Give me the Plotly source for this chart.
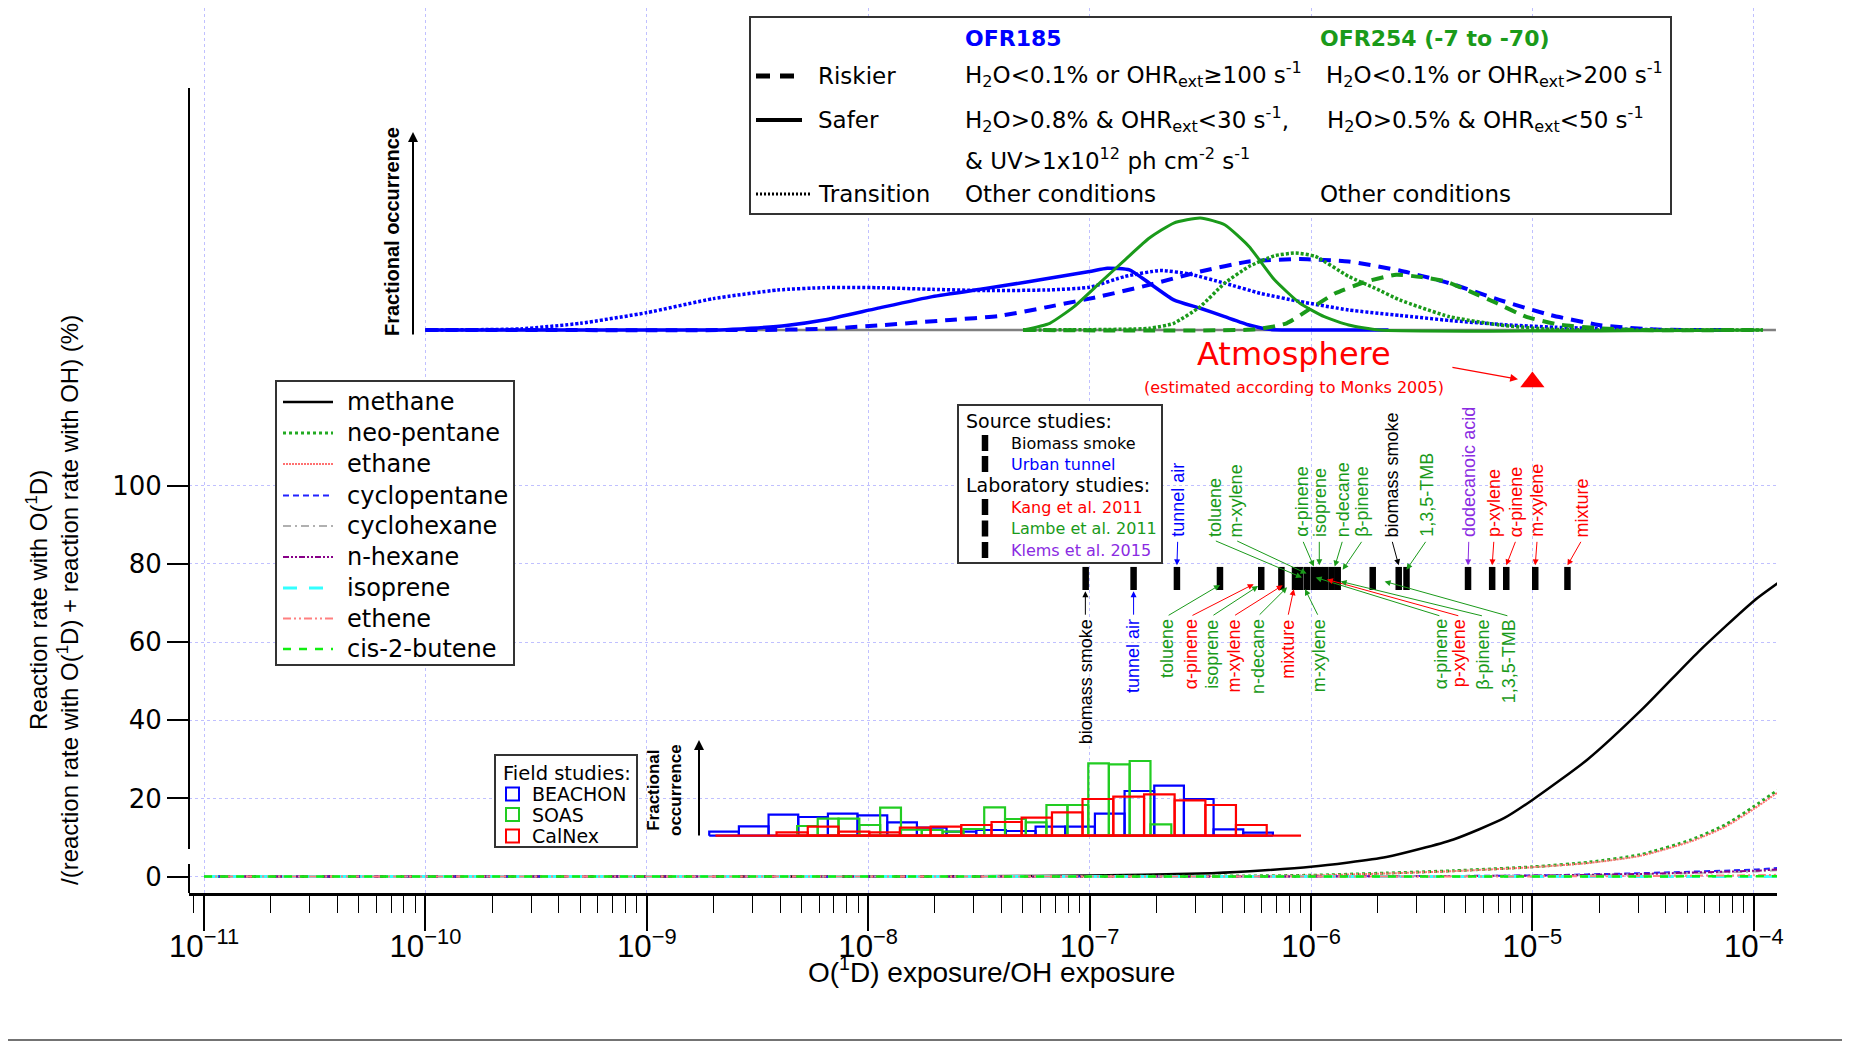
import numpy as np
import plotly.graph_objects as go

# ---------------- data ----------------
# main curves: fraction of reaction with O(1D) (%) vs O(1D) exposure / OH exposure
species = ["methane", "neo-pentane", "ethane", "cyclopentane", "cyclohexane",
           "n-hexane", "isoprene", "ethene", "cis-2-butene"]
methane_x = [1e-11, 1e-8, 3.16e-8, 1e-7, 3.16e-7, 5.3e-7, 1e-6, 2.19e-6, 4.4e-6, 7.48e-6, 1e-5,
             1.78e-5, 3.16e-5, 5.62e-5, 1e-4, 1.28e-4]
methane_y = [0, 0, 0.1, 0.25, 0.8, 1.4, 2.5, 5.0, 9.5, 15.0, 19.6,
             30.0, 43.0, 57.5, 70.5, 75.0]
slow_x = [1e-11, 1e-8, 1e-7, 5.3e-7, 1e-6, 2.19e-6, 4.4e-6, 1e-5, 1.81e-5, 3.07e-5, 5.2e-5,
          7.41e-5, 1e-4, 1.28e-4]
neopentane_y = [0, 0, 0.05, 0.17, 0.34, 0.9, 1.5, 2.5, 3.7, 5.6, 9.4, 13.2, 17.9, 22.1]
ethane_y = [0, 0, 0.05, 0.15, 0.3, 0.8, 1.4, 2.4, 3.5, 5.3, 9.0, 12.7, 17.3, 21.5]
fast_x = [1e-11, 1e-7, 1e-6, 1e-5, 3.16e-5, 1e-4, 1.28e-4]
cyclopentane_y = [0, 0, 0.05, 0.3, 0.9, 1.8, 2.2]
cyclohexane_y = [0, 0, 0.03, 0.2, 0.6, 1.3, 1.6]
nhexane_y = [0, 0, 0.04, 0.25, 0.7, 1.5, 1.8]
isoprene_y = [0, 0, 0, 0, 0.02, 0.05, 0.06]
ethene_y = [0, 0, 0.01, 0.05, 0.15, 0.35, 0.45]
cis2butene_y = [0, 0, 0, 0.02, 0.04, 0.1, 0.12]

# top inset: fractional occurrence distributions (log10 of exposure ratio)
ofr185_safer_lx = [-10.0, -8.67, -8.53, -8.37, -8.2, -7.96, -7.71, -7.47, -7.27, -7.135, -7.0,
                   -6.92, -6.82, -6.73, -6.62, -6.5, -6.39, -6.28, -6.19, -6.1, -5.65]
ofr185_safer_y = [0, 0, 0.015, 0.04, 0.089, 0.193, 0.298, 0.37, 0.433, 0.478, 0.522,
                  0.552, 0.537, 0.418, 0.269, 0.194, 0.119, 0.045, 0.006, 0, 0]
ofr185_trans_lx = [-10.0, -9.57, -9.3, -9.0, -8.7, -8.41, -8.2, -7.96, -7.71, -7.47, -7.18, -7.0,
                   -6.84, -6.68, -6.55, -6.39, -6.23, -6.05, -5.83, -5.6, -5.375, -5.15, -4.9, -4.6, -4.3]
ofr185_trans_y = [0, 0.01, 0.06, 0.155, 0.28, 0.357, 0.378, 0.378, 0.363, 0.352, 0.358, 0.382,
                  0.478, 0.531, 0.5, 0.418, 0.328, 0.254, 0.179, 0.13, 0.085, 0.05, 0.025, 0.008, 0]
ofr185_risk_lx = [-10.0, -8.5, -8.2, -7.96, -7.63, -7.41, -7.18, -6.955, -6.73, -6.5, -6.28, -6.05,
                  -5.83, -5.6, -5.375, -5.15, -4.92, -4.7, -4.47, -4.3, -4.1]
ofr185_risk_y = [0, 0, 0.01, 0.04, 0.09, 0.125, 0.209, 0.299, 0.403, 0.522, 0.612, 0.633,
                 0.612, 0.531, 0.418, 0.269, 0.134, 0.045, 0.006, 0, 0]
ofr254_safer_lx = [-7.3, -7.18, -7.07, -6.955, -6.84, -6.73, -6.62, -6.5, -6.39, -6.28, -6.165,
                   -6.05, -5.94, -5.83, -5.69, -3.96]
ofr254_safer_y = [0, 0.06, 0.209, 0.418, 0.627, 0.821, 0.955, 1.0, 0.94, 0.746, 0.448,
                  0.239, 0.119, 0.045, 0, 0]
ofr254_trans_lx = [-7.3, -6.73, -6.62, -6.5, -6.39, -6.28, -6.165, -6.07, -5.98, -5.83, -5.71,
                   -5.6, -5.375, -5.15, -4.92, -4.7, -3.96]
ofr254_trans_y = [0, 0.015, 0.06, 0.209, 0.418, 0.567, 0.663, 0.687, 0.657, 0.478, 0.373,
                  0.269, 0.119, 0.045, 0.006, 0, 0]
ofr254_risk_lx = [-7.3, -6.25, -6.11, -6.0, -5.89, -5.75, -5.615, -5.5, -5.39, -5.28, -5.16,
                  -5.03, -4.87, -4.69, -4.53, -3.96]
ofr254_risk_y = [0, 0.006, 0.06, 0.194, 0.328, 0.433, 0.493, 0.472, 0.433, 0.343, 0.239,
                 0.119, 0.045, 0.015, 0, 0]
dist_base_lx = [-10.0, -3.9]

# bottom inset: field-study histograms (log10 bin edges, relative occurrence)
beachon_edges = [-8.718, -8.584, -8.45, -8.316, -8.182, -8.048, -7.914, -7.78, -7.646, -7.512,
                 -7.378, -7.244, -7.11, -6.976, -6.842, -6.708, -6.574, -6.44, -6.306, -6.172]
beachon_h = [0.04, 0.093, 0.21, 0.187, 0.22, 0.203, 0.133, 0.08, 0.04, 0.057,
             0.047, 0.09, 0.09, 0.22, 0.447, 0.50, 0.367, 0.063, 0.03]
soas_edges = [-8.321, -8.228, -8.134, -8.04, -7.946, -7.852, -7.758, -7.664, -7.57, -7.476,
              -7.382, -7.288, -7.195, -7.1, -7.006, -6.913, -6.819, -6.725, -6.631]
soas_h = [0.097, 0.17, 0.17, 0.107, 0.28, 0.06, 0.057, 0.04, 0.067, 0.283,
          0.167, 0.133, 0.307, 0.307, 0.723, 0.713, 0.747, 0.113]
calnex_edges = [-8.414, -8.273, -8.134, -7.995, -7.857, -7.718, -7.58, -7.443, -7.307,
                -7.17, -7.032, -6.893, -6.754, -6.616, -6.477, -6.339, -6.2]
calnex_h = [0.033, 0.09, 0.04, 0.033, 0.08, 0.09, 0.107, 0.137, 0.18,
            0.233, 0.367, 0.39, 0.413, 0.353, 0.307, 0.107]
calnex_base_lx = [-8.69, -6.045]

# source / laboratory studies markers
src_bar_x = [9.6e-8, 1.58e-7, 2.48e-7, 3.88e-7, 5.96e-7, 7.35e-7, 8.47e-7, 8.95e-7, 9.6e-7,
             1.03e-6, 1.09e-6, 1.16e-6, 1.24e-6, 1.32e-6, 1.90e-6, 2.49e-6, 2.70e-6,
             5.12e-6, 6.58e-6, 7.62e-6, 1.03e-5, 1.44e-5]
src_bar_y = [73.3, 79.2]

BLUE, GREEN, RED, PURPLE, BLACK = "#0000ff", "#1a9a1a", "#ff0000", "#8a2be2", "#000000"
# (text, colour, label x, arrow head x, arrow head y)
upper_labels = [
    ("tunnel air", BLUE, 2.50e-7, 2.48e-7, 79.6),
    ("toluene", GREEN, 3.66e-7, 9.1e-7, 76.5),
    ("m-xylene", GREEN, 4.57e-7, 9.55e-7, 77.5),
    ("α-pinene", GREEN, 9.16e-7, 1.03e-6, 79.3),
    ("isoprene", GREEN, 1.09e-6, 1.09e-6, 79.6),
    ("n-decane", GREEN, 1.39e-6, 1.28e-6, 79.3),
    ("β-pinene", GREEN, 1.71e-6, 1.39e-6, 78.5),
    ("biomass smoke", BLACK, 2.32e-6, 2.49e-6, 79.6),
    ("1,3,5-TMB", GREEN, 3.33e-6, 2.70e-6, 78.5),
    ("dodecanoic acid", PURPLE, 5.16e-6, 5.12e-6, 79.6),
    ("p-xylene", RED, 6.70e-6, 6.58e-6, 79.6),
    ("α-pinene", RED, 8.43e-6, 7.62e-6, 79.6),
    ("m-xylene", RED, 1.05e-5, 1.03e-5, 79.6),
    ("mixture", RED, 1.67e-5, 1.44e-5, 79.6),
]
lower_labels = [
    ("biomass smoke", BLACK, 9.57e-8, 9.57e-8, 73.0),
    ("tunnel air", BLUE, 1.58e-7, 1.58e-7, 73.0),
    ("toluene", GREEN, 2.24e-7, 3.88e-7, 74.6),
    ("α-pinene", RED, 2.87e-7, 5.51e-7, 74.8),
    ("isoprene", GREEN, 3.57e-7, 5.77e-7, 74.3),
    ("m-xylene", RED, 4.47e-7, 7.45e-7, 74.5),
    ("n-decane", GREEN, 5.77e-7, 7.8e-7, 74.0),
    ("mixture", RED, 7.87e-7, 8.36e-7, 73.5),
    ("m-xylene", GREEN, 1.08e-6, 9.4e-7, 73.5),
    ("α-pinene", GREEN, 3.86e-6, 1.05e-6, 76.5),
    ("p-xylene", RED, 4.70e-6, 1.18e-6, 76.0),
    ("β-pinene", GREEN, 6.01e-6, 1.36e-6, 75.5),
    ("1,3,5-TMB", GREEN, 7.83e-6, 2.15e-6, 75.5),
]
upper_label_base = 86.3
lower_label_top = 66.3
atmosphere_x, atmosphere_y = [1e-5], [126.5]

# ---------------- layout geometry (reference page pixels) ----------------
W, H = 1850, 1044
OFF = 8                              # default page margin of the html body
PLOT_L, PLOT_R, PLOT_T, PLOT_B = 189, 1777, 8, 893   # plot area in page pixels
L, R, T = PLOT_L - OFF, W - (PLOT_R - OFF), 0
B = H - (PLOT_B - OFF)
PW, PH = W - L - R, H - T - B


def xp(px):
    return (px - PLOT_L) / PW


def yp(py):
    return (PLOT_B - py) / PH


Y0PX, PXU = 876.6, 3.91           # page pixel of y=0 and pixels per %
X0PX, PXD = 204.0, 221.4          # page pixel of 1e-11 and pixels per decade
yr = [(Y0PX - PLOT_B) / PXU, (Y0PX - PLOT_T) / PXU]
xr = [-11 + (PLOT_L - X0PX) / PXD, -11 + (PLOT_R - X0PX) / PXD]
y2r = [(330 - PLOT_B) / 112.0, (330 - PLOT_T) / 112.0]
y3r = [(835.7 - PLOT_B) / 100.0, (835.7 - PLOT_T) / 100.0]

DV = "DejaVu Sans"
LS = "Liberation Sans"

fig = go.Figure()

# ---------------- main curves ----------------
styles = [
    (methane_x, methane_y, "black", "solid", 2.5),
    (slow_x, neopentane_y, "#22aa22", "dot", 3),
    (slow_x, ethane_y, "#ff7070", "2px,1px", 2),
    (fast_x, cyclopentane_y, "#2222ff", "6px,4px", 2),
    (fast_x, cyclohexane_y, "#b0b0b0", "8px,4px,2px,4px", 2),
    (fast_x, nhexane_y, "#880088", "6px,2px,2px,2px,2px,2px", 2),
    (fast_x, isoprene_y, "#33ffff", "14px,12px", 3),
    (fast_x, ethene_y, "#ff8080", "8px,3px,2px,3px,2px,3px", 2),
    (fast_x, cis2butene_y, "#11ee11", "8px,8px", 2.5),
]
for name, (xs, ys, col, dash, w) in zip(species, styles):
    fig.add_trace(go.Scatter(x=xs, y=ys, mode="lines", name=name, showlegend=False,
                             line=dict(color=col, dash=dash, width=w, shape="spline", smoothing=0.6)))

# ---------------- top inset ----------------
fig.add_trace(go.Scatter(x=[10 ** v for v in dist_base_lx], y=[0, 0], yaxis="y2", mode="lines",
                         line=dict(color="#808080", width=2.5), showlegend=False))
dists = [
    (ofr185_trans_lx, ofr185_trans_y, BLUE, "3px,2px", 3.5),
    (ofr185_risk_lx, ofr185_risk_y, BLUE, "12px,8px", 4),
    (ofr185_safer_lx, ofr185_safer_y, BLUE, "solid", 3.5),
    (ofr254_trans_lx, ofr254_trans_y, GREEN, "3px,2px", 3.5),
    (ofr254_risk_lx, ofr254_risk_y, GREEN, "12px,8px", 4),
    (ofr254_safer_lx, ofr254_safer_y, GREEN, "solid", 3),
]
for lx, ys, col, dash, w in dists:
    fig.add_trace(go.Scatter(x=[10 ** v for v in lx], y=ys, yaxis="y2", mode="lines",
                             line=dict(color=col, dash=dash, width=w, shape="spline", smoothing=0.5),
                             showlegend=False))


# ---------------- bottom inset histograms ----------------
def hist_path(edges, heights):
    xs, ys = [], []
    for i, h in enumerate(heights):
        x0, x1 = 10 ** edges[i], 10 ** edges[i + 1]
        xs += [x0, x0, x1, x1, None]
        ys += [0, h, h, 0, None]
    xs += [10 ** edges[0], 10 ** edges[-1]]
    ys += [0, 0]
    return xs, ys


for edges, hs, col in [(beachon_edges, beachon_h, BLUE), (soas_edges, soas_h, "#22cc22"),
                       (calnex_edges, calnex_h, RED)]:
    hx, hy = hist_path(edges, hs)
    fig.add_trace(go.Scatter(x=hx, y=hy, yaxis="y3", mode="lines",
                             line=dict(color=col, width=2.2), showlegend=False))
fig.add_trace(go.Scatter(x=[10 ** v for v in calnex_base_lx], y=[0, 0], yaxis="y3", mode="lines",
                         line=dict(color=RED, width=2.2), showlegend=False))

# ---------------- source study markers ----------------
bx, by = [], []
for v in src_bar_x:
    bx += [v, v, None]
    by += [src_bar_y[0], src_bar_y[1], None]
fig.add_trace(go.Scatter(x=bx, y=by, mode="lines", line=dict(color="black", width=6.5),
                         showlegend=False))

# atmosphere marker
fig.add_trace(go.Scatter(x=atmosphere_x, y=atmosphere_y, mode="markers",
                         marker=dict(symbol="triangle-up", size=21, color="red"), showlegend=False))

ann = []
shapes = []

for text, col, lxv, hx, hy in upper_labels:
    ann.append(dict(x=np.log10(lxv), y=upper_label_base, xref="x", yref="y", text=text,
                    textangle=-90, showarrow=False, xanchor="center", yanchor="bottom",
                    font=dict(family=LS, size=18, color=col)))
    ann.append(dict(x=np.log10(hx), y=hy, xref="x", yref="y", ax=np.log10(lxv), ay=upper_label_base - 0.3,
                    axref="x", ayref="y", text="", showarrow=True, arrowhead=2, arrowsize=1.2,
                    arrowwidth=1, arrowcolor=col))
for text, col, lxv, hx, hy in lower_labels:
    ann.append(dict(x=np.log10(lxv), y=lower_label_top, xref="x", yref="y", text=text,
                    textangle=-90, showarrow=False, xanchor="center", yanchor="top",
                    font=dict(family=LS, size=18, color=col)))
    ann.append(dict(x=np.log10(hx), y=hy, xref="x", yref="y", ax=np.log10(lxv), ay=lower_label_top + 0.3,
                    axref="x", ayref="y", text="", showarrow=True, arrowhead=2, arrowsize=1.2,
                    arrowwidth=1, arrowcolor=col))

# atmosphere arrow
ann.append(dict(x=-5.065, y=127.2, xref="x", yref="y", ax=-5.368, ay=130.3, axref="x", ayref="y",
                text="", showarrow=True, arrowhead=2, arrowsize=1.3, arrowwidth=1.2, arrowcolor="red"))


def ptext(px, py, text, size, color="black", family=DV, xanchor="left", yanchor="middle",
          angle=0, bold=False):
    if bold:
        text = "<b>" + text + "</b>"
    if xanchor == "left":
        px -= 2
    ann.append(dict(x=xp(px), y=yp(py), xref="paper", yref="paper", text=text, showarrow=False,
                    xanchor=xanchor, yanchor=yanchor, textangle=angle,
                    font=dict(family=family, size=size, color=color)))


def pbox(x0, y0, x1, y1, lw=2, col="#333333", fill="white"):
    shapes.append(dict(type="rect", xref="paper", yref="paper", x0=xp(x0), x1=xp(x1),
                       y0=yp(y0), y1=yp(y1), line=dict(color=col, width=lw), fillcolor=fill,
                       layer="above"))


def pline(x0, y0, x1, y1, col="black", w=2, dash="solid"):
    shapes.append(dict(type="line", xref="paper", yref="paper", x0=xp(x0), x1=xp(x1),
                       y0=yp(y0), y1=yp(y1), line=dict(color=col, width=w, dash=dash), layer="above"))


ptext(1294, 354, "Atmosphere", 32, "red", xanchor="center")
ptext(1294, 387, "(estimated according to Monks 2005)", 16, "red", xanchor="center")

# top legend box
pbox(750, 17, 1671, 214)
ptext(965, 38, "OFR185", 22, BLUE, bold=True)
ptext(1320, 38, "OFR254 (-7 to -70)", 22, GREEN, bold=True)
pline(756, 76, 802, 76, "black", 5, "14px,10px")
pline(756, 120, 802, 120, "black", 4)
pline(756, 194, 812, 194, "black", 3, "2px,2px")
ptext(818, 76, "Riskier", 23)
ptext(818, 120, "Safer", 23)
ptext(818, 194, "Transition", 23)
ptext(965, 74, "H<sub>2</sub>O&lt;0.1% or OHR<sub>ext</sub>≥100 s<sup>-1</sup>", 23)
ptext(1326, 74, "H<sub>2</sub>O&lt;0.1% or OHR<sub>ext</sub>&gt;200 s<sup>-1</sup>", 23)
ptext(965, 119, "H<sub>2</sub>O&gt;0.8% &amp; OHR<sub>ext</sub>&lt;30 s<sup>-1</sup>,", 23)
ptext(1327, 119, "H<sub>2</sub>O&gt;0.5% &amp; OHR<sub>ext</sub>&lt;50 s<sup>-1</sup>", 23)
ptext(965, 159, "&amp; UV&gt;1x10<sup>12</sup> ph cm<sup>-2</sup> s<sup>-1</sup>", 23)
ptext(965, 194, "Other conditions", 23)
ptext(1320, 194, "Other conditions", 23)

# species legend (drawn)
pbox(276, 381, 514, 665)
legend_rows = [402, 433, 464, 495.5, 526, 557, 588, 618.5, 649]
for name, (xs, ys, col, dash, w), py in zip(species, styles, legend_rows):
    pline(283, py, 333, py, col, w, dash)
    ptext(347, py, name, 24)

# source studies legend
pbox(958, 405, 1162, 563)
ptext(966, 421, "Source studies:", 19)
ptext(966, 485, "Laboratory studies:", 19)
for py, txt, col in [(443, "Biomass smoke", "black"), (464, "Urban tunnel", BLUE),
                     (507, "Kang et al. 2011", RED), (528.5, "Lambe et al. 2011", GREEN),
                     (550, "Klems et al. 2015", PURPLE)]:
    pline(985, py - 8, 985, py + 8, "black", 6.5)
    ptext(1011, py, txt, 16, col)

# field studies legend
pbox(495, 755, 637, 847)
ptext(503, 773, "Field studies:", 19.5)
for py, txt, col in [(794, "BEACHON", BLUE), (814.5, "SOAS", "#22cc22"), (836, "CalNex", RED)]:
    shapes.append(dict(type="rect", xref="paper", yref="paper", x0=xp(506), x1=xp(519),
                       y0=yp(py - 6.5), y1=yp(py + 6.5), line=dict(color=col, width=2),
                       fillcolor="rgba(0,0,0,0)", layer="above"))
    ptext(532, py, txt, 19)

# inset axis labels + arrows
ptext(392, 232, "Fractional occurrence", 20, family=LS, xanchor="center", angle=-90, bold=True)
ann.append(dict(x=xp(413), y=yp(132), xref="paper", yref="paper", ax=0, ay=204, axref="pixel",
                ayref="pixel", text="", showarrow=True, arrowhead=2, arrowsize=1, arrowwidth=2,
                arrowcolor="black"))
ptext(664, 790, "Fractional<br>occurrence", 17, family=LS, xanchor="center", angle=-90, bold=True)
ann.append(dict(x=xp(699), y=yp(740), xref="paper", yref="paper", ax=0, ay=97, axref="pixel",
                ayref="pixel", text="", showarrow=True, arrowhead=2, arrowsize=1, arrowwidth=2,
                arrowcolor="black"))

# axis titles
ptext(52, 600, "Reaction rate with O(<sup>1</sup>D)<br>/(reaction rate with O(<sup>1</sup>D) + "
      "reaction rate with OH) (%)", 24, family=LS, xanchor="center", angle=-90)
ptext(991, 970, "O(<sup>1</sup>D) exposure/OH exposure", 28, family=LS, xanchor="center")

# broken y axis line, separator line
pline(189, 88, 189, 849, "black", 2)
pline(189, 864, 189, 893, "black", 2)
pline(0, 1040, 1850, 1040, "#444444", 1.5)

fig.update_layout(
    width=W, height=H, margin=dict(l=L, r=R, t=T, b=B), paper_bgcolor="white",
    plot_bgcolor="white", font=dict(family=DV, color="black"), showlegend=False,
    xaxis=dict(type="log", range=xr, tickmode="linear", tick0=0, dtick=1,
               exponentformat="power", showexponent="all", showgrid=True,
               gridcolor="#c0c0ff", griddash="dot", gridwidth=1, zeroline=False,
               showline=True, linecolor="black", linewidth=3, ticks="outside", ticklen=35,
               tickwidth=1.5, tickcolor="black", ticklabelstandoff=-10,
               tickfont=dict(family=LS, size=25, color="black"),
               minor=dict(ticks="outside", ticklen=17, dtick="D1", tickwidth=1.2,
                          tickcolor="black", showgrid=False)),
    yaxis=dict(range=yr, tickmode="array", tickvals=[0, 20, 40, 60, 80, 100], showgrid=True,
               gridcolor="#c0c0ff", griddash="dot", gridwidth=1, zeroline=False, showline=False,
               ticks="outside", ticklen=21, tickwidth=1.5, tickcolor="black",
               tickfont=dict(family=DV, size=26, color="black")),
    yaxis2=dict(range=y2r, overlaying="y", visible=False, showgrid=False, zeroline=False),
    yaxis3=dict(range=y3r, overlaying="y", visible=False, showgrid=False, zeroline=False),
    annotations=ann, shapes=shapes,
)

fig.write_html("out.html")
